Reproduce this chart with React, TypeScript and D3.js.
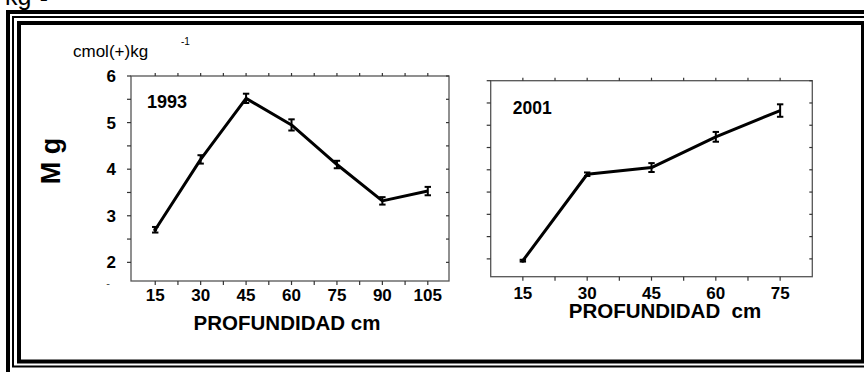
import React from "react";
import * as d3 from "d3";

const depth1993 = [15, 30, 45, 60, 75, 90, 105];
const mg1993 = [2.7, 4.21, 5.52, 4.95, 4.1, 3.32, 3.53];
const err1993 = [0.06, 0.09, 0.1, 0.12, 0.08, 0.08, 0.09];

const depth2001 = [15, 30, 45, 60, 75];
const mg2001 = [1.96, 3.9, 4.05, 4.74, 5.33];
const err2001 = [0.02, 0.04, 0.1, 0.11, 0.14];

const yTicks = [2, 3, 4, 5, 6];
const yMinorTicks = [2.5, 3.5, 4.5, 5.5];

const FONT = "'Liberation Sans', Arial, Helvetica, sans-serif";

type PanelProps = {
  depths: number[];
  values: number[];
  errors: number[];
  year: string;
  xDomain: [number, number];
  xRange: [number, number];
  yRange: [number, number];
  showYLabels: boolean;
  tickLabelY: number;
  titleX: number;
  titleY: number;
  titleSize: number;
  xLabel: string;
  xLabelX: number;
  xLabelY: number;
};

function Panel(p: PanelProps) {
  const x = d3.scaleLinear().domain(p.xDomain).range(p.xRange);
  const y = d3.scaleLinear().domain([1.6, 6]).range(p.yRange);
  const [x0, x1] = p.xRange;
  const [yb, yt] = p.yRange;
  const line = d3
    .line<number>()
    .x((_, i) => x(p.depths[i]))
    .y((v) => y(v));
  const step = p.depths[1] - p.depths[0];
  const xTicksAll: number[] = [];
  for (let v = p.depths[0] - step / 2; v <= p.xDomain[1] + 0.01; v += step / 2) {
    if (v > p.xDomain[0] + 0.5 && v < p.xDomain[1] - 0.5) xTicksAll.push(v);
  }
  const cap = 3.2;
  return (
    <g>
      <rect x={x0} y={yt} width={x1 - x0} height={yb - yt} fill="none" stroke="#555" strokeWidth={1.3} />
      {xTicksAll.map((v, i) => (
        <g key={"xt" + i}>
          <line x1={x(v)} x2={x(v)} y1={yb} y2={yb + 4} stroke="#333" strokeWidth={1.2} />
          <line x1={x(v)} x2={x(v)} y1={yt} y2={yt - 3} stroke="#333" strokeWidth={1.2} />
        </g>
      ))}
      {[...yTicks, ...yMinorTicks].map((v, i) => (
        <g key={"yt" + i}>
          <line x1={x0} x2={x0 - 4} y1={y(v)} y2={y(v)} stroke="#333" strokeWidth={1.2} />
          <line x1={x1} x2={x1 - 3} y1={y(v)} y2={y(v)} stroke="#333" strokeWidth={1.2} />
        </g>
      ))}
      {p.showYLabels &&
        yTicks.map((v) => (
          <text key={"yl" + v} x={x0 - 15} y={y(v) + 6} textAnchor="end" fontSize={17} fontWeight="bold" fontFamily={FONT}>
            {v}
          </text>
        ))}
      {p.showYLabels && (
        <text x={x0 - 21} y={y(1.6) + 6} textAnchor="end" fontSize={11} fill="#444" fontFamily={FONT}>
          -
        </text>
      )}
      {p.depths.map((d) => (
        <text key={"xl" + d} x={x(d)} y={p.tickLabelY} textAnchor="middle" fontSize={17} fontWeight="bold" fontFamily={FONT}>
          {d}
        </text>
      ))}
      <path d={line(p.values) || ""} fill="none" stroke="#000" strokeWidth={3} strokeLinejoin="round" />
      {p.values.map((v, i) => {
        const cx = x(p.depths[i]);
        const top = y(v + p.errors[i]);
        const bot = y(v - p.errors[i]);
        return (
          <g key={"eb" + i} stroke="#000" strokeWidth={2}>
            <line x1={cx} x2={cx} y1={top} y2={bot} />
            <line x1={cx - cap} x2={cx + cap} y1={top} y2={top} />
            <line x1={cx - cap} x2={cx + cap} y1={bot} y2={bot} />
          </g>
        );
      })}
      <circle cx={x(p.depths[0])} cy={y(p.values[0])} r={2} fill="#000" />
      <text x={p.titleX} y={p.titleY} fontSize={p.titleSize} fontWeight="bold" fontFamily={FONT}>
        {p.year}
      </text>
      <text
        x={p.xLabelX}
        y={p.xLabelY}
        textAnchor="middle"
        fontSize={20.5}
        fontWeight="bold"
        fontFamily={FONT}
        style={{ whiteSpace: "pre" }}
      >
        {p.xLabel}
      </text>
    </g>
  );
}

export default function App() {
  return (
    <svg
      width={864}
      height={372}
      viewBox="0 0 864 372"
      style={{ position: "fixed", left: 0, top: 0, background: "#fff" }}
    >
      <rect x={0} y={0} width={864} height={372} fill="#fff" />
      <text x={5} y={5} fontSize={25} fontFamily={FONT}>
        kg
      </text>
      <text x={35} y={1} fontSize={14} fontFamily={FONT}>
        -1
      </text>
      <rect x={8} y={12} width={866} height={362} fill="none" stroke="#000" strokeWidth={4} />
      <rect x={13} y={17} width={855} height={349.5} fill="none" stroke="#000" strokeWidth={2} />
      <rect x={19} y={23} width={844} height={338.5} fill="none" stroke="#000" strokeWidth={4} />

      <text x={73} y={57} fontSize={17} fontFamily={FONT}>
        cmol(+)kg
      </text>
      <text x={181} y={45} fontSize={10} fontFamily={FONT}>
        -1
      </text>
      <text
        transform="translate(60,161) rotate(-90)"
        textAnchor="middle"
        fontSize={27}
        fontWeight="bold"
        fontFamily={FONT}
      >
        M g
      </text>

      <Panel
        depths={depth1993}
        values={mg1993}
        errors={err1993}
        year="1993"
        xDomain={[7, 112]}
        xRange={[131, 449]}
        yRange={[281, 76]}
        showYLabels={true}
        tickLabelY={301}
        titleX={147}
        titleY={108}
        titleSize={18}
        xLabel="PROFUNDIDAD cm"
        xLabelX={287}
        xLabelY={330}
      />
      <Panel
        depths={depth2001}
        values={mg2001}
        errors={err2001}
        year="2001"
        xDomain={[7.5, 82.5]}
        xRange={[490.7, 812.3]}
        yRange={[276.7, 80.7]}
        showYLabels={false}
        tickLabelY={298.5}
        titleX={512.7}
        titleY={114}
        titleSize={17.5}
        xLabel="PROFUNDIDAD  cm"
        xLabelX={665}
        xLabelY={317.5}
      />
    </svg>
  );
}
